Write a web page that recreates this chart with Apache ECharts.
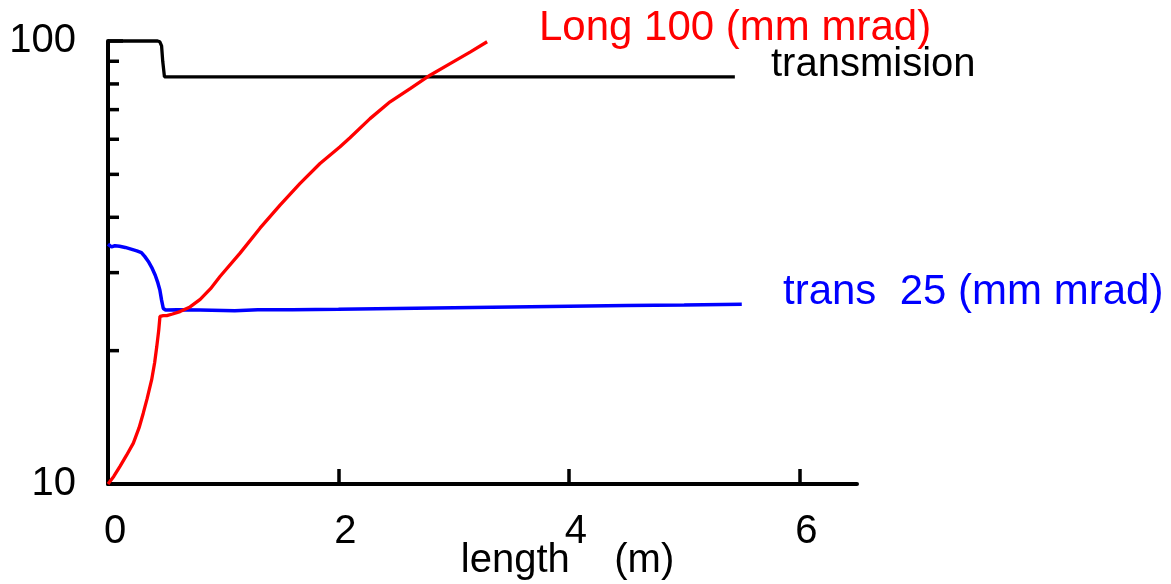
<!DOCTYPE html>
<html>
<head>
<meta charset="utf-8">
<script src="https://cdn.jsdelivr.net/npm/echarts@6/dist/echarts.min.js"></script>
<style>
  html, body { margin: 0; padding: 0; background: #fff; }
  #chart { width: 1171px; height: 584px; }
</style>
</head>
<body>
<div id="chart"></div>
<script>
// Beam line: transmission and emittances along the length (m), log scale
const xTicks = [0, 2, 4, 6];
const yMinorTicks = [20, 30, 40, 50, 60, 70, 80, 90];

// transmission (%)
const transmission = [
  [0, 100], [0.43, 100], [0.45, 99.6], [0.465, 97.5], [0.475, 90], [0.49, 83], [5.44, 83]
];

// transverse emittance, 25 (mm mrad) at the entrance
const transEmit = [
  [0, 34.8], [0.03, 34.3], [0.06, 34.5], [0.1, 34.4], [0.15, 34.2], [0.2, 33.9],
  [0.25, 33.6], [0.29, 33.3], [0.32, 32.6], [0.35, 31.8], [0.38, 30.8], [0.41, 29.6],
  [0.43, 28.6], [0.45, 27.4], [0.465, 26.0], [0.48, 24.9], [0.5, 24.7], [0.6, 24.75],
  [0.8, 24.7], [1.0, 24.65], [1.1, 24.6], [1.3, 24.75], [1.6, 24.75], [2.0, 24.8],
  [2.5, 24.9], [3.0, 25.0], [3.5, 25.1], [4.0, 25.2], [4.5, 25.3], [5.0, 25.35], [5.5, 25.45]
];

// longitudinal emittance, 100 (mm mrad)
const longEmit = [
  [0, 10], [0.05, 10.4], [0.104, 10.96], [0.16, 11.6], [0.22, 12.37], [0.27, 13.4],
  [0.306, 14.45], [0.34, 15.6], [0.379, 17.2], [0.405, 18.8], [0.423, 20.4], [0.44, 22.2],
  [0.451, 23.9], [0.48, 24.0], [0.51, 24.0], [0.56, 24.2], [0.625, 24.5], [0.712, 25.1],
  [0.8, 26.1], [0.89, 27.6], [0.972, 29.4], [1.146, 33.2], [1.319, 37.8], [1.493, 42.6],
  [1.667, 47.7], [1.84, 52.9], [2.014, 57.7], [2.1, 60.5], [2.274, 66.8], [2.448, 72.9],
  [2.622, 78.1], [2.795, 83.7], [2.969, 88.9], [3.142, 94.4], [3.29, 99.6]
];

const FONT = '"Liberation Sans", Arial, sans-serif';

const chart = echarts.init(document.getElementById('chart'), null, { renderer: 'canvas' });

chart.setOption({
  animation: false,
  backgroundColor: '#ffffff',
  grid: {
    left: 108, right: 314, top: 41, bottom: 100,
    containLabel: false, outerBoundsMode: 'none'
  },
  xAxis: {
    type: 'value',
    min: 0, max: 6.5,
    name: 'length    (m)',
    nameLocation: 'middle',
    nameGap: 57,
    nameMoveOverlap: false,
    nameTextStyle: { color: '#000', fontSize: 40, fontFamily: FONT, padding: [0, 0, 0, 170] },
    axisLine: { onZero: false, lineStyle: { color: '#000', width: 4 } },
    axisTick: { inside: true, length: 15, customValues: xTicks, lineStyle: { color: '#000', width: 3.5 } },
    axisLabel: {
      customValues: xTicks, color: '#000', fontSize: 40, fontFamily: FONT,
      margin: 28, padding: [0, 0, 0, 14]
    },
    splitLine: { show: false }
  },
  yAxis: {
    type: 'log',
    logBase: 10,
    min: 10, max: 100,
    axisLine: { show: true, lineStyle: { color: '#000', width: 4 } },
    axisTick: { inside: true, length: 15, lineStyle: { color: '#000', width: 3.5 } },
    axisLabel: { color: '#000', fontSize: 40, fontFamily: FONT, margin: 32, padding: [10, 0, 0, 0] },
    splitLine: { show: false }
  },
  series: [
    {
      name: 'minor ticks',
      type: 'custom',
      silent: true,
      clip: false,
      data: yMinorTicks.map(v => [0, v]),
      renderItem: function (params, api) {
        const p = api.coord([api.value(0), api.value(1)]);
        return {
          type: 'line',
          shape: { x1: p[0], y1: p[1], x2: p[0] + 11, y2: p[1] },
          style: { stroke: '#000', lineWidth: 3.5 }
        };
      }
    },
    {
      name: 'transmision',
      type: 'line',
      data: transmission,
      showSymbol: false,
      clip: false,
      lineStyle: { color: '#000000', width: 3.3 }
    },
    {
      name: 'trans  25 (mm mrad)',
      type: 'line',
      data: transEmit,
      showSymbol: false,
      clip: false,
      lineStyle: { color: '#0000ff', width: 3.5 }
    },
    {
      name: 'Long 100 (mm mrad)',
      type: 'line',
      data: longEmit,
      showSymbol: false,
      clip: false,
      lineStyle: { color: '#ff0000', width: 3.3 }
    }
  ],
  graphic: [
    {
      type: 'text', x: 539, y: 28,
      style: { text: 'Long 100 (mm mrad)', fill: '#ff0000', font: '42px ' + FONT, textAlign: 'left', textVerticalAlign: 'middle' }
    },
    {
      type: 'text', x: 771, y: 65,
      style: { text: 'transmision', fill: '#000000', font: '40px ' + FONT, textAlign: 'left', textVerticalAlign: 'middle' }
    },
    {
      type: 'text', x: 783, y: 292,
      style: { text: 'trans  25 (mm mrad)', fill: '#0000ff', font: '42px ' + FONT, textAlign: 'left', textVerticalAlign: 'middle' }
    }
  ]
});
</script>
</body>
</html>
